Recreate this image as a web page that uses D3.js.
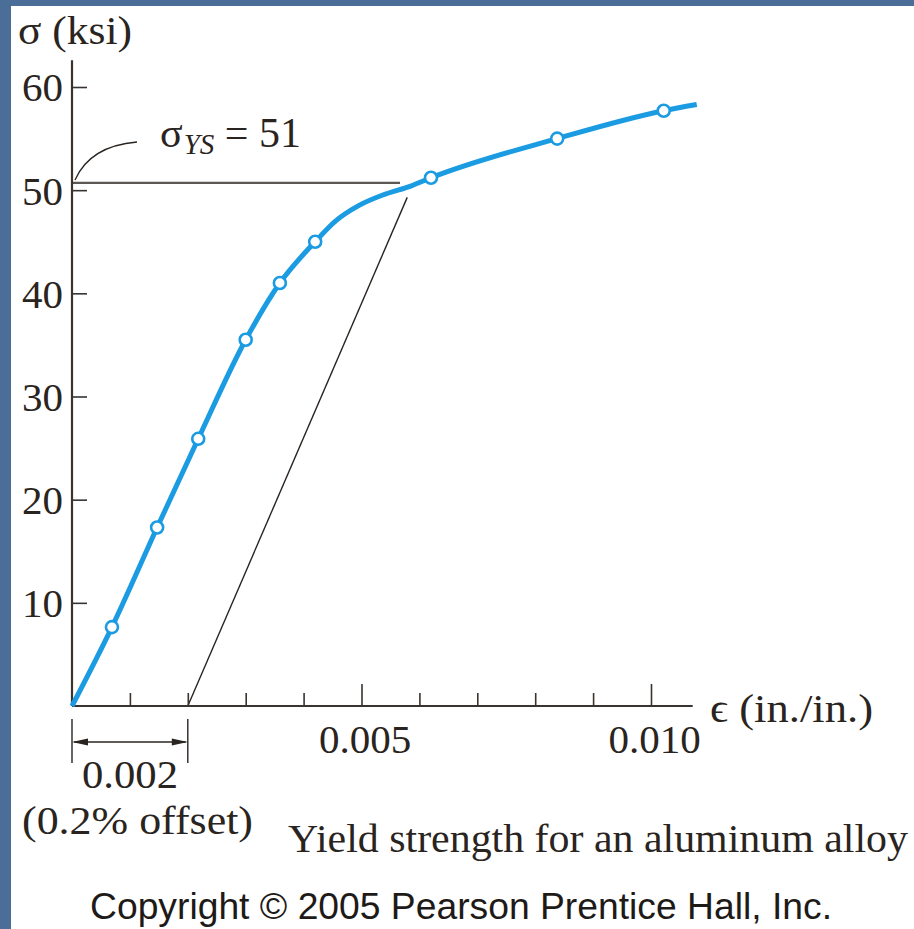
<!DOCTYPE html>
<html>
<head>
<meta charset="utf-8">
<script src="https://cdn.jsdelivr.net/npm/d3@7"></script>
<style>
  body { margin: 0; background: #4a6e98; }
  svg { display: block; }
  .serif { font-family: "Liberation Serif", "Times New Roman", serif; fill: #2a2420; }
</style>
</head>
<body>
<div class="container_main"></div>
<script>
// stress-strain data (strain in in./in., stress in ksi)
const curveStrain = [0, 0.00069, 0.00147, 0.00218, 0.00300, 0.00359, 0.00420, 0.00455, 0.00495, 0.00540, 0.00585, 0.00620, 0.00838, 0.01022, 0.01079];
const curveStress = [0, 7.65, 17.3, 25.9, 35.5, 41.0, 45.0, 47.0, 48.5, 49.6, 50.4, 51.2, 55.0, 57.7, 58.3];
const markerStrain = [0.00069, 0.00147, 0.00218, 0.00300, 0.00359, 0.00420, 0.00620, 0.00838, 0.01022];
const markerStress = [7.65, 17.3, 25.9, 35.5, 41.0, 45.0, 51.2, 55.0, 57.7];

const xMinorTicks = [0.001, 0.002, 0.003, 0.004, 0.006, 0.007, 0.008, 0.009];
const xMajorTicks = [0.005, 0.010];
const xTickLabels = ["0.005", "0.010"];
const yTicks = [10, 20, 30, 40, 50, 60];

const offsetStrain = 0.002;          // 0.2% offset
const offsetLineEnd = [0.00579, 49.3];
const yieldLineStress = 50.7;        // where the horizontal line sits in the figure
const yieldLabel = "= 51";
const xAxisEnd = 0.01072;
const yAxisTop = 62.6;

// build the SVG
const svgwidth = 914, svgheight = 929;
const svg = d3.select('.container_main')
  .append("svg")
  .attr("width", svgwidth)
  .attr("height", svgheight);

// white slide panel on the blue background
svg.append("rect").attr("x", 11).attr("y", 6).attr("width", svgwidth - 11).attr("height", svgheight - 6).attr("fill", "#ffffff");

const posX = d3.scaleLinear().domain([0, 0.010]).range([72, 651]);
const posY = d3.scaleLinear().domain([0, 60]).range([706, 87]);
const ink = "#3a332e";
const fs = 41;

// yield line and 0.2% offset line
svg.append("line")
  .attr("x1", posX(0)).attr("x2", 400)
  .attr("y1", posY(yieldLineStress)).attr("y2", posY(yieldLineStress))
  .attr("stroke", "#5c5753").attr("stroke-width", 2.2);
svg.append("line")
  .attr("x1", posX(offsetStrain)).attr("y1", posY(0))
  .attr("x2", posX(offsetLineEnd[0])).attr("y2", posY(offsetLineEnd[1]))
  .attr("stroke", "#2a2420").attr("stroke-width", 1.4);

// axes
svg.append("g")
  .attr("transform", "translate(0," + posY(0) + ")")
  .call(d3.axisBottom(posX).tickValues(xMinorTicks).tickSize(-13).tickSizeOuter(0).tickFormat(""))
  .call(g => g.select(".domain").remove())
  .call(g => g.selectAll("line").attr("stroke", ink).attr("stroke-width", 1.6));
svg.append("g")
  .attr("transform", "translate(0," + posY(0) + ")")
  .call(d3.axisBottom(posX).tickValues(xMajorTicks).tickSize(-22).tickSizeOuter(0).tickFormat((d, i) => xTickLabels[i]))
  .call(g => g.select(".domain").remove())
  .call(g => g.selectAll("line").attr("stroke", ink).attr("stroke-width", 1.6))
  .call(g => g.selectAll("text").attr("class", "serif").attr("font-size", fs)
      .attr("y", 47).attr("dy", 0).attr("fill", null).attr("dx", 3));
svg.append("g")
  .attr("transform", "translate(" + posX(0) + ",0)")
  .call(d3.axisLeft(posY).tickValues(yTicks).tickSize(-15).tickSizeOuter(0).tickPadding(9))
  .call(g => g.select(".domain").remove())
  .call(g => g.selectAll("line").attr("stroke", ink).attr("stroke-width", 1.6))
  .call(g => g.selectAll("text").attr("class", "serif").attr("font-size", fs).attr("fill", null).attr("dy", "0.34em"));

svg.append("line")
  .attr("x1", posX(0)).attr("x2", posX(xAxisEnd))
  .attr("y1", posY(0)).attr("y2", posY(0))
  .attr("stroke", ink).attr("stroke-width", 2.2);
svg.append("line")
  .attr("x1", posX(0)).attr("x2", posX(0))
  .attr("y1", posY(0)).attr("y2", posY(yAxisTop))
  .attr("stroke", ink).attr("stroke-width", 2.2);

// stress-strain curve
const pts = curveStrain.map((d, i) => [d, curveStress[i]]);
const line = d3.line()
  .x(d => posX(d[0]))
  .y(d => posY(d[1]))
  .curve(d3.curveMonotoneX);
svg.append("path")
  .attr("d", line(pts))
  .attr("fill", "none")
  .attr("stroke", "#1a9be2")
  .attr("stroke-width", 5)
  .attr("stroke-linecap", "butt");

svg.selectAll('.markers')
  .data(markerStrain.map((d, i) => [d, markerStress[i]]))
  .enter()
    .append("circle")
      .attr("class", "markers")
      .attr("cx", d => posX(d[0]))
      .attr("cy", d => posY(d[1]))
      .attr("r", 6)
      .attr("fill", "#ffffff")
      .attr("stroke", "#1a9be2")
      .attr("stroke-width", 2.6);

// leader from sigma_YS label to the axis
const leader = d3.path();
leader.moveTo(posX(0) + 3, posY(yieldLineStress) - 3);
leader.quadraticCurveTo(posX(0) + 18, 146, 137, 142);
svg.append("path").attr("d", leader.toString()).attr("fill", "none")
  .attr("stroke", "#2a2420").attr("stroke-width", 1.3);

// texts
const t = svg.append("text").attr("class", "serif").attr("font-size", 42).attr("x", 160).attr("y", 147);
t.append("tspan").text("σ");
t.append("tspan").attr("font-size", 29).attr("font-style", "italic").attr("dy", 7).attr("dx", 1).text("YS");
t.append("tspan").attr("dy", -7).text(" " + yieldLabel);

svg.append("text").attr("class", "serif").attr("font-size", fs)
  .attr("x", 18).attr("y", 44).attr("textLength", 114).attr("lengthAdjust", "spacingAndGlyphs")
  .text("σ (ksi)");
svg.append("text").attr("class", "serif").attr("font-size", fs)
  .attr("x", 710).attr("y", 722).attr("textLength", 163).attr("lengthAdjust", "spacingAndGlyphs")
  .text("ϵ (in./in.)");

// 0.002 dimension
[0, offsetStrain].forEach(v => {
  svg.append("line").attr("x1", posX(v)).attr("x2", posX(v)).attr("y1", 719).attr("y2", 763)
    .attr("stroke", "#2a2420").attr("stroke-width", 1.4);
});
svg.append("line").attr("x1", posX(0) + 2).attr("x2", posX(offsetStrain) - 2).attr("y1", 742).attr("y2", 742)
  .attr("stroke", "#2a2420").attr("stroke-width", 1.4);
[[posX(0), 1], [posX(offsetStrain), -1]].forEach(([x0, s]) => {
  svg.append("path")
    .attr("d", "M" + x0 + ",742 L" + (x0 + s * 16) + ",738.5 L" + (x0 + s * 16) + ",745.5 Z")
    .attr("fill", "#2a2420");
});
svg.append("text").attr("class", "serif").attr("font-size", fs)
  .attr("x", 82).attr("y", 788).attr("textLength", 96).attr("lengthAdjust", "spacingAndGlyphs")
  .text("0.002");
svg.append("text").attr("class", "serif").attr("font-size", fs)
  .attr("x", 22).attr("y", 834).attr("textLength", 231).attr("lengthAdjust", "spacingAndGlyphs")
  .text("(0.2% offset)");
svg.append("text").attr("class", "serif").attr("font-size", fs)
  .attr("x", 288).attr("y", 852).attr("textLength", 620).attr("lengthAdjust", "spacingAndGlyphs")
  .text("Yield strength for an aluminum alloy");
svg.append("text")
  .attr("font-family", "'Liberation Sans', Arial, sans-serif").attr("font-size", 36).attr("fill", "#1e1a18")
  .attr("x", 90).attr("y", 919).attr("textLength", 742).attr("lengthAdjust", "spacingAndGlyphs")
  .text("Copyright © 2005 Pearson Prentice Hall, Inc.");
</script>
</body>
</html>
